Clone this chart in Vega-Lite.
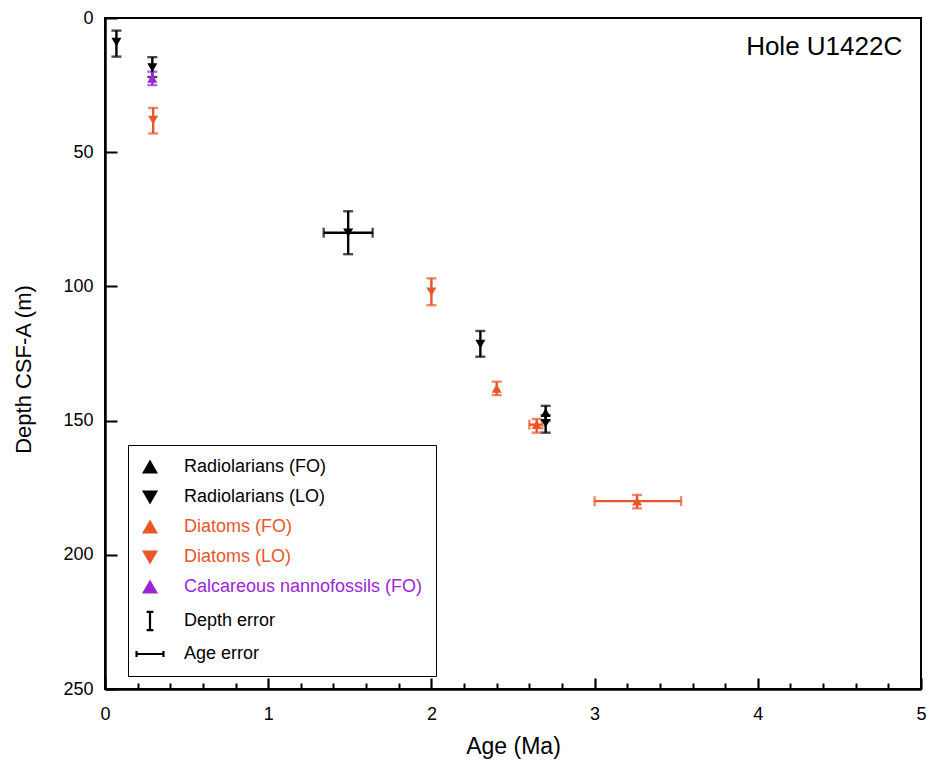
{
  "$schema": "https://vega.github.io/schema/vega-lite/v6.json",
  "autosize": "none",
  "width": 816,
  "height": 671,
  "padding": {"left": 105, "top": 18, "right": 8, "bottom": 78},
  "background": "white",
  "config": {
    "font": "Liberation Sans",
    "view": {"stroke": "black", "strokeWidth": 2},
    "axis": {"domainColor": "black", "domainWidth": 2.5, "tickColor": "black", "tickWidth": 2, "labelColor": "black", "titleColor": "black", "labelFont": "Liberation Sans", "titleFont": "Liberation Sans", "titleFontWeight": "normal", "grid": false}
  },
  "datasets": {
    "events": [
      {"age": 0.07, "depth": 9, "dlo": 4.7, "dhi": 14.4, "series": "Radiolarians (LO)"},
      {"age": 0.29, "depth": 18.5, "dlo": 14.6, "dhi": 22, "series": "Radiolarians (LO)"},
      {"age": 0.29, "depth": 22.5, "dlo": 20, "dhi": 25, "series": "Calcareous nannofossils (FO)"},
      {"age": 0.295, "depth": 38, "dlo": 33.5, "dhi": 43, "series": "Diatoms (LO)"},
      {"age": 1.49, "depth": 80, "dlo": 72, "dhi": 88, "alo": 1.34, "ahi": 1.64, "series": "Radiolarians (LO)"},
      {"age": 2.0, "depth": 102, "dlo": 97, "dhi": 107, "series": "Diatoms (LO)"},
      {"age": 2.3, "depth": 121.5, "dlo": 116.6, "dhi": 126.2, "series": "Radiolarians (LO)"},
      {"age": 2.4, "depth": 138, "dlo": 135.5, "dhi": 140.5, "series": "Diatoms (FO)"},
      {"age": 2.7, "depth": 147, "dlo": 144.5, "dhi": 150, "series": "Radiolarians (FO)"},
      {"age": 2.7, "depth": 151, "dlo": 148, "dhi": 154.5, "series": "Radiolarians (LO)"},
      {"age": 2.645, "depth": 151.5, "dlo": 149.4, "dhi": 154.5, "alo": 2.6, "ahi": 2.68, "series": "Diatoms (FO)"},
      {"age": 3.26, "depth": 180, "dlo": 177.7, "dhi": 182.7, "alo": 3.0, "ahi": 3.53, "series": "Diatoms (FO)"}
    ],
    "label": [{"age": 4.885, "depth": 10.8, "text": "Hole U1422C"}]
  },
  "resolve": {"axis": {"x": "independent"}},
  "layer": [
    {
      "data": {"name": "events"},
      "mark": {"type": "errorbar", "ticks": {"size": 10, "thickness": 2.4}, "thickness": 2.4},
      "encoding": {
        "x": {"field": "age", "type": "quantitative", "scale": {"domain": [0, 5], "nice": false},
          "axis": {"title": "Age (Ma)", "orient": "bottom", "values": [0, 1, 2, 3, 4, 5], "format": "d",
            "ticks": true, "tickSize": -11, "tickWidth": 2.2, "tickColor": "black",
            "labelPadding": 27, "labelFontSize": 18, "titleFontSize": 23, "titlePadding": 12, "labelFlush": false, "labelOverlap": false}},
        "y": {"field": "dlo", "type": "quantitative", "scale": {"domain": [0, 250], "reverse": true, "nice": false},
          "axis": {"title": "Depth CSF-A (m)", "titleY": 351, "values": [0, 50, 100, 150, 200, 250], "tickSize": -12, "labelPadding": 24, "labelFontSize": 18, "titleFontSize": 22, "titlePadding": 27, "labelFlush": false}},
        "y2": {"field": "dhi"},
        "color": {"field": "series", "type": "nominal"}
      }
    },
    {
      "data": {"name": "events"},
      "transform": [{"filter": "isValid(datum.alo)"}],
      "mark": {"type": "errorbar", "ticks": {"size": 10, "thickness": 2.4}, "thickness": 2.4},
      "encoding": {
        "x": {"field": "alo", "type": "quantitative", "axis": null},
        "x2": {"field": "ahi"},
        "y": {"field": "depth", "type": "quantitative"},
        "color": {"field": "series", "type": "nominal"}
      }
    },
    {
      "data": {"name": "events"},
      "mark": {"type": "point", "filled": true, "opacity": 1, "size": 100},
      "encoding": {
        "x": {"field": "age", "type": "quantitative",
          "axis": {"title": null, "orient": "bottom", "values": [0.2,0.4,0.6,0.8,1.2,1.4,1.6,1.8,2.2,2.4,2.6,2.8,3.2,3.4,3.6,3.8,4.2,4.4,4.6,4.8],
            "labels": false, "domain": false, "tickSize": -6}},
        "y": {"field": "depth", "type": "quantitative"},
        "shape": {"field": "series", "type": "nominal",
          "scale": {"domain": ["Radiolarians (FO)", "Radiolarians (LO)", "Diatoms (FO)", "Diatoms (LO)", "Calcareous nannofossils (FO)", "Depth error", "Age error"],
            "range": ["triangle-up", "triangle-down", "triangle-up", "triangle-down", "triangle-up", "M0,-1.5L0,1.5M-0.55,-1.5L0.55,-1.5M-0.55,1.5L0.55,1.5", "M-2.2,0L2.2,0M-2.2,-0.5L-2.2,0.5M2.2,-0.5L2.2,0.5"]},
          "legend": null},
        "color": {"field": "series", "type": "nominal",
          "scale": {"domain": ["Radiolarians (FO)", "Radiolarians (LO)", "Diatoms (FO)", "Diatoms (LO)", "Calcareous nannofossils (FO)", "Depth error", "Age error"],
            "range": ["#000000", "#000000", "#E8562A", "#E8562A", "#9B26D6", "#000000", "#000000"]},
          "legend": {"title": null, "orient": "none", "legendX": 23, "legendY": 427,
            "strokeColor": "black", "fillColor": "white", "padding": 13, "symbolSize": 150,
            "labelFontSize": 18, "labelFont": "Liberation Sans", "labelOffset": 25, "rowPadding": 10, "labelLimit": 400,
            "symbolType": "triangle-up", "symbolOpacity": 1,
            "labelColor": {"expr": "scale('color', datum.value)"},
            "encode": {
              "symbols": {"update": {
                "shape": {"signal": "scale('shape', datum.value)"},
                "stroke": {"signal": "scale('color', datum.value)"},
                "strokeWidth": {"value": 2.2},
                "opacity": {"value": 1},
                "fill": {"signal": "(datum.value === 'Depth error' || datum.value === 'Age error') ? 'transparent' : scale('color', datum.value)"}
              }},
              "labels": {"update": {"fill": {"signal": "scale('color', datum.value)"}}}
            }}}
      }
    },
    {
      "data": {"name": "label"},
      "mark": {"type": "text", "align": "right", "baseline": "middle", "fontSize": 26, "font": "Liberation Sans", "color": "black"},
      "encoding": {
        "x": {"field": "age", "type": "quantitative", "axis": null},
        "y": {"field": "depth", "type": "quantitative"},
        "text": {"field": "text"}
      }
    }
  ]
}
